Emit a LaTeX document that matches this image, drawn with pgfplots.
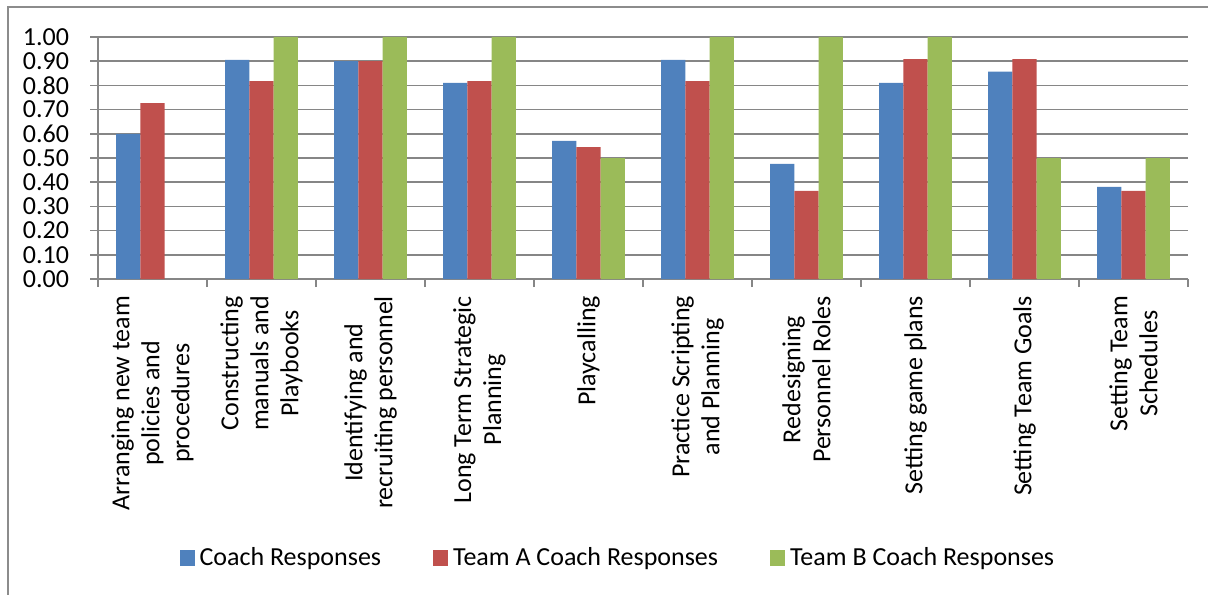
\documentclass[border=0pt]{standalone}
\usepackage{fontspec}
\setmainfont{Carlito}
\usepackage{pgfplots}
\pgfplotsset{compat=1.18}
\definecolor{cBlue}{HTML}{4F81BD}
\definecolor{cRed}{HTML}{C0504D}
\definecolor{cGreen}{HTML}{9BBB59}
\definecolor{gridgray}{HTML}{868686}
\definecolor{framegray}{HTML}{8C8C8C}

\begin{document}
\begin{tikzpicture}[font=\fontsize{13}{15}\selectfont]
\useasboundingbox (0,0) rectangle (604pt,297pt);
% chart frame
\draw[framegray, line width=1.2pt] (4pt,-5pt) -- (4pt,293.5pt) -- (610pt,293.5pt);
\begin{axis}[
  at={(49pt,157.5pt)}, anchor=south west,
  scale only axis, width=545pt, height=121pt,
  ybar=0pt, bar width=12.1pt,
  xmin=-0.5, xmax=9.5, ymin=0, ymax=1,
  enlargelimits=false,
  axis lines*=left,
  axis line style={gridgray, line width=0.75pt, -},
  ymajorgrids, grid style={gridgray, line width=0.75pt},
  ytick={0,0.1,0.2,0.3,0.4,0.5,0.6,0.7,0.8,0.9,1},
  yticklabel style={/pgf/number format/.cd, fixed, fixed zerofill, precision=2, assume math mode=true,
    /tikz/.cd, xshift=-7pt},
  tick align=outside,
  major tick length=4pt, minor tick length=4pt,
  major y tick style={gridgray, line width=0.75pt},
  xtick={0,1,2,3,4,5,6,7,8,9},
  major x tick style={draw=none},
  minor xtick={-0.5,0.5,1.5,2.5,3.5,4.5,5.5,6.5,7.5,8.5,9.5},
  minor x tick style={gridgray, line width=0.75pt},
  xticklabels={
    {Arranging new team\\policies and\\procedures},
    {Constructing\\manuals and\\Playbooks},
    {Identifying and\\recruiting personnel},
    {Long Term Strategic\\Planning},
    {Playcalling},
    {Practice Scripting\\and Planning},
    {Redesigning\\Personnel Roles},
    {Setting game plans},
    {Setting Team Goals},
    {Setting Team\\Schedules}},
  xticklabel style={yshift=-1pt, rotate=90, anchor=east, align=center},
  legend columns=3,
  legend style={at={(0.476,-1.153)}, anchor=center, draw=none, fill=none,
    nodes={inner sep=0pt},
    /tikz/every odd column/.append style={column sep=2.5pt},
    /tikz/every even column/.append style={column sep=26pt}},
  legend image code/.code={\fill[#1] (0pt,-4pt) rectangle (7.5pt,4pt);},
]
\addplot[fill=cBlue, draw=none] coordinates {
  (0,0.600) (1,0.905) (2,0.900) (3,0.810) (4,0.571)
  (5,0.905) (6,0.476) (7,0.810) (8,0.857) (9,0.381)};
\addplot[fill=cRed, draw=none] coordinates {
  (0,0.727) (1,0.818) (2,0.900) (3,0.818) (4,0.545)
  (5,0.818) (6,0.364) (7,0.909) (8,0.909) (9,0.364)};
\addplot[fill=cGreen, draw=none] coordinates {
  (1,1.00) (2,1.00) (3,1.00) (4,0.50)
  (5,1.00) (6,1.00) (7,1.00) (8,0.50) (9,0.50)};
\legend{Coach Responses, Team A Coach Responses, Team B Coach Responses}
\end{axis}
\end{tikzpicture}
\end{document}
